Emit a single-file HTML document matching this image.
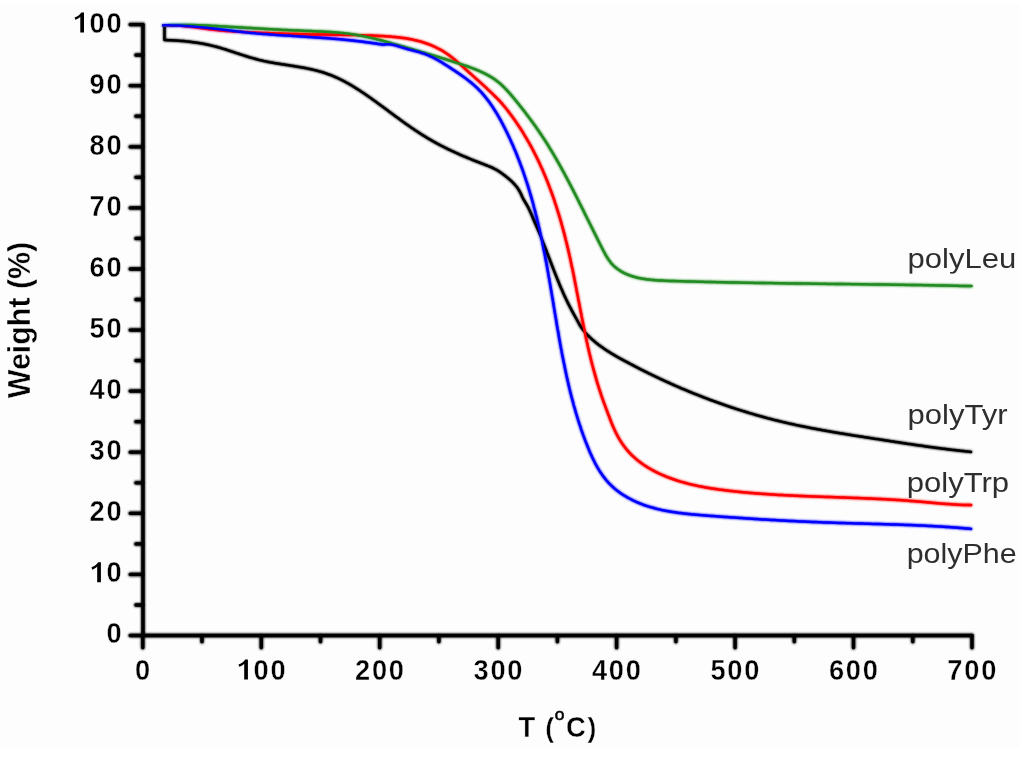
<!DOCTYPE html>
<html><head><meta charset="utf-8"><style>
html,body{margin:0;padding:0;background:#fff;}
body{width:1024px;height:757px;overflow:hidden;position:relative;}
svg{position:absolute;left:0;top:0;will-change:transform;}
.t{font-family:"Liberation Sans",sans-serif;font-weight:bold;font-size:27px;fill:#000;stroke:#fdfdfd;stroke-width:0.4px;}
.l{font-family:"Liberation Sans",sans-serif;font-size:28.5px;fill:#2e2e2e;}
.one{font-weight:normal;stroke:#000;stroke-width:1.7px;}
.yt{font-family:"Liberation Sans",sans-serif;font-weight:bold;font-size:30.4px;stroke:#fdfdfd;stroke-width:0.4px;}
</style></head><body>
<svg width="1024" height="757" viewBox="0 0 1024 757">
<rect x="0" y="5" width="1020" height="743" fill="#fdfdfd"/>
<defs><filter id="b" filterUnits="userSpaceOnUse" x="0" y="0" width="1024" height="757"><feGaussianBlur stdDeviation="0.8"/></filter>
<path id="ax" stroke="#000" d="M143 24.6 V635.5 H972"/>
<path id="tk" stroke="#000" d="M130.2 635.5 H143 M130.2 574.4 H143 M130.2 513.3 H143 M130.2 452.2 H143 M130.2 391.1 H143 M130.2 330.1 H143 M130.2 269.0 H143 M130.2 207.9 H143 M130.2 146.8 H143 M130.2 85.7 H143 M130.2 24.6 H143 M135.9 605.0 H143 M135.9 543.9 H143 M135.9 482.8 H143 M135.9 421.7 H143 M135.9 360.6 H143 M135.9 299.5 H143 M135.9 238.4 H143 M135.9 177.3 H143 M135.9 116.2 H143 M135.9 55.1 H143 M142.8 635.5 V647.7 M261.3 635.5 V647.7 M379.7 635.5 V647.7 M498.2 635.5 V647.7 M616.6 635.5 V647.7 M735.1 635.5 V647.7 M853.5 635.5 V647.7 M972.0 635.5 V647.7 M202.0 635.5 V641.7 M320.5 635.5 V641.7 M438.9 635.5 V641.7 M557.4 635.5 V641.7 M675.9 635.5 V641.7 M794.3 635.5 V641.7 M912.8 635.5 V641.7"/>
<path id="cK" stroke="#000" d="M164.5 25.4 V40.1 L164.5 40.1 166.0 40.1 167.5 40.2 169.0 40.2 170.5 40.3 172.0 40.3 173.5 40.4 175.0 40.5 176.5 40.6 178.0 40.7 179.5 40.8 181.0 40.9 182.5 41.0 184.0 41.1 185.4 41.3 186.9 41.4 188.4 41.6 189.9 41.8 191.4 42.0 192.9 42.2 194.4 42.4 195.9 42.6 197.4 42.8 198.9 43.0 200.4 43.3 201.8 43.5 203.3 43.8 204.8 44.1 206.3 44.4 207.7 44.7 209.2 45.0 210.7 45.4 212.1 45.7 213.6 46.1 215.0 46.4 216.5 46.8 217.9 47.2 219.4 47.6 220.8 48.0 222.2 48.5 223.7 48.9 225.1 49.3 226.5 49.8 227.9 50.3 229.4 50.7 230.8 51.2 232.2 51.6 233.6 52.1 235.1 52.6 236.5 53.1 237.9 53.5 239.3 54.0 240.8 54.5 242.2 54.9 243.6 55.4 245.0 55.8 246.5 56.3 247.9 56.7 249.3 57.2 250.7 57.6 252.2 58.0 253.6 58.4 255.1 58.8 256.5 59.2 258.0 59.6 259.4 60.0 260.9 60.3 262.3 60.6 263.8 61.0 265.3 61.3 266.7 61.6 268.2 61.9 269.7 62.2 271.2 62.4 272.7 62.7 274.1 63.0 275.6 63.2 277.1 63.5 278.6 63.7 280.1 63.9 281.6 64.2 283.1 64.4 284.6 64.6 286.1 64.9 287.6 65.1 289.0 65.3 290.5 65.6 292.0 65.8 293.5 66.0 295.0 66.3 296.5 66.5 298.0 66.8 299.4 67.0 300.9 67.3 302.4 67.5 303.9 67.8 305.4 68.1 306.8 68.4 308.3 68.7 309.8 69.0 311.2 69.3 312.7 69.6 314.1 70.0 315.6 70.3 317.0 70.7 318.4 71.1 319.9 71.5 321.3 71.9 322.7 72.3 324.1 72.7 325.5 73.2 326.9 73.7 328.3 74.2 329.7 74.7 331.1 75.2 332.5 75.8 333.9 76.4 335.2 77.0 336.6 77.6 337.9 78.2 339.3 78.8 340.6 79.5 342.0 80.2 343.3 80.8 344.6 81.5 345.9 82.3 347.3 83.0 348.6 83.7 349.9 84.5 351.2 85.2 352.5 86.0 353.8 86.8 355.0 87.6 356.3 88.4 357.6 89.2 358.9 90.0 360.1 90.8 361.4 91.7 362.7 92.5 363.9 93.3 365.2 94.2 366.4 95.1 367.7 95.9 368.9 96.8 370.2 97.7 371.4 98.5 372.6 99.4 373.8 100.3 375.1 101.2 376.3 102.1 377.5 103.0 378.7 103.9 380.0 104.8 381.2 105.7 382.4 106.5 383.6 107.4 384.8 108.3 386.0 109.2 387.2 110.1 388.4 111.0 389.6 111.9 390.8 112.8 392.0 113.7 393.2 114.6 394.4 115.5 395.6 116.4 396.9 117.3 398.1 118.1 399.3 119.0 400.5 119.9 401.7 120.8 402.9 121.7 404.1 122.5 405.3 123.4 406.5 124.3 407.8 125.1 409.0 126.0 410.2 126.8 411.4 127.7 412.7 128.5 413.9 129.3 415.1 130.2 416.4 131.0 417.6 131.8 418.9 132.6 420.1 133.5 421.4 134.3 422.6 135.1 423.9 135.8 425.2 136.6 426.4 137.4 427.7 138.2 429.0 138.9 430.3 139.7 431.6 140.4 432.9 141.2 434.2 141.9 435.5 142.6 436.8 143.4 438.2 144.1 439.5 144.8 440.8 145.5 442.2 146.2 443.5 146.8 444.8 147.5 446.2 148.2 447.5 148.9 448.9 149.5 450.3 150.2 451.6 150.8 453.0 151.4 454.4 152.1 455.7 152.7 457.1 153.3 458.5 153.9 459.8 154.6 461.2 155.2 462.6 155.8 464.0 156.4 465.4 156.9 466.8 157.5 468.2 158.1 469.6 158.7 470.9 159.2 472.3 159.8 473.7 160.4 475.1 160.9 476.5 161.5 477.9 162.0 479.3 162.5 480.7 163.1 482.1 163.6 483.5 164.1 484.9 164.7 486.3 165.2 487.7 165.8 489.0 166.3 490.4 166.9 491.8 167.5 493.1 168.1 494.4 168.8 495.8 169.5 497.1 170.2 498.4 171.0 499.6 171.8 500.9 172.7 502.1 173.6 503.3 174.5 504.6 175.4 505.8 176.3 506.9 177.3 508.1 178.2 509.2 179.2 510.4 180.2 511.5 181.2 512.5 182.2 513.6 183.3 514.6 184.4 515.5 185.5 516.5 186.6 517.4 187.8 518.2 189.0 519.0 190.3 519.7 191.5 520.4 192.9 521.1 194.2 521.7 195.6 522.3 197.0 523.0 198.4 523.7 199.7 524.5 201.0 525.2 202.2 526.0 203.5 526.8 204.8 527.5 206.1 528.2 207.4 528.8 208.7 529.5 210.1 530.1 211.4 530.7 212.8 531.3 214.1 531.9 215.5 532.5 216.9 533.0 218.3 533.6 219.6 534.2 221.0 534.8 222.4 535.4 223.8 536.0 225.1 536.6 226.5 537.2 227.9 537.8 229.3 538.4 230.7 539.0 232.1 539.5 233.4 540.1 234.8 540.7 236.2 541.2 237.6 541.8 239.0 542.3 240.4 542.9 241.8 543.4 243.2 544.0 244.6 544.5 246.0 545.1 247.4 545.6 248.8 546.2 250.2 546.7 251.6 547.2 253.0 547.8 254.4 548.3 255.8 548.8 257.2 549.4 258.6 549.9 260.0 550.4 261.4 551.0 262.8 551.5 264.2 552.0 265.6 552.6 267.0 553.1 268.4 553.7 269.8 554.2 271.2 554.8 272.6 555.3 274.0 555.9 275.4 556.4 276.8 557.0 278.2 557.5 279.6 558.1 280.9 558.7 282.3 559.2 283.7 559.8 285.1 560.4 286.5 561.0 287.9 561.6 289.2 562.2 290.6 562.8 292.0 563.4 293.4 564.0 294.7 564.6 296.1 565.3 297.4 565.9 298.8 566.6 300.2 567.2 301.5 567.9 302.9 568.5 304.2 569.2 305.5 569.9 306.9 570.6 308.2 571.3 309.5 572.0 310.9 572.7 312.2 573.4 313.5 574.2 314.8 574.9 316.1 575.6 317.4 576.3 318.7 577.1 320.0 577.8 321.4 578.5 322.7 579.2 324.0 579.9 325.3 580.7 326.5 581.5 327.8 582.4 329.0 583.3 330.2 584.2 331.4 585.2 332.5 586.3 333.7 587.3 334.8 588.4 335.8 589.4 336.9 590.5 337.9 591.6 339.0 592.8 340.0 593.9 340.9 595.0 341.9 596.2 342.9 597.4 343.8 598.5 344.7 599.7 345.6 600.9 346.5 602.2 347.3 603.4 348.2 604.6 349.0 605.8 349.9 607.1 350.7 608.4 351.5 609.6 352.3 610.9 353.1 612.2 353.9 613.5 354.6 614.7 355.4 616.0 356.1 617.3 356.9 618.6 357.6 620.0 358.4 621.3 359.1 622.6 359.8 623.9 360.5 625.2 361.2 626.6 361.9 627.9 362.6 629.2 363.3 630.5 364.0 631.9 364.7 633.2 365.4 634.5 366.1 635.9 366.8 637.2 367.5 638.5 368.2 639.9 368.9 641.2 369.6 642.5 370.2 643.9 370.9 645.2 371.6 646.6 372.2 647.9 372.9 649.3 373.6 650.6 374.2 652.0 374.9 653.3 375.5 654.7 376.2 656.0 376.8 657.4 377.5 658.7 378.1 660.1 378.8 661.5 379.4 662.8 380.0 664.2 380.7 665.6 381.3 666.9 381.9 668.3 382.5 669.7 383.1 671.0 383.8 672.4 384.4 673.8 385.0 675.1 385.6 676.5 386.2 677.9 386.8 679.3 387.4 680.6 388.0 682.0 388.6 683.4 389.1 684.8 389.7 686.2 390.3 687.6 390.9 688.9 391.5 690.3 392.0 691.7 392.6 693.1 393.2 694.5 393.7 695.9 394.3 697.3 394.8 698.7 395.4 700.1 395.9 701.5 396.5 702.9 397.0 704.3 397.6 705.7 398.1 707.1 398.6 708.5 399.2 709.9 399.7 711.3 400.2 712.7 400.7 714.1 401.3 715.5 401.8 716.9 402.3 718.3 402.8 719.7 403.3 721.1 403.8 722.6 404.3 724.0 404.8 725.4 405.3 726.8 405.8 728.2 406.2 729.6 406.7 731.1 407.2 732.5 407.7 733.9 408.1 735.3 408.6 736.8 409.1 738.2 409.5 739.6 410.0 741.0 410.4 742.5 410.9 743.9 411.3 745.3 411.8 746.8 412.2 748.2 412.6 749.6 413.1 751.1 413.5 752.5 413.9 754.0 414.4 755.4 414.8 756.8 415.2 758.3 415.6 759.7 416.0 761.2 416.4 762.6 416.8 764.1 417.2 765.5 417.6 766.9 418.0 768.4 418.4 769.8 418.7 771.3 419.1 772.7 419.5 774.2 419.9 775.7 420.2 777.1 420.6 778.6 420.9 780.0 421.3 781.5 421.6 782.9 422.0 784.4 422.3 785.9 422.7 787.3 423.0 788.8 423.4 790.2 423.7 791.7 424.0 793.2 424.3 794.6 424.6 796.1 425.0 797.6 425.3 799.0 425.6 800.5 425.9 802.0 426.2 803.4 426.5 804.9 426.8 806.4 427.1 807.8 427.4 809.3 427.7 810.8 428.0 812.3 428.3 813.7 428.5 815.2 428.8 816.7 429.1 818.2 429.4 819.6 429.6 821.1 429.9 822.6 430.2 824.1 430.4 825.5 430.7 827.0 431.0 828.5 431.2 830.0 431.5 831.5 431.8 832.9 432.0 834.4 432.3 835.9 432.5 837.4 432.8 838.9 433.0 840.3 433.3 841.8 433.5 843.3 433.7 844.8 434.0 846.3 434.2 847.8 434.5 849.2 434.7 850.7 434.9 852.2 435.2 853.7 435.4 855.2 435.7 856.7 435.9 858.1 436.1 859.6 436.4 861.1 436.6 862.6 436.8 864.1 437.1 865.6 437.3 867.0 437.5 868.5 437.7 870.0 438.0 871.5 438.2 873.0 438.4 874.5 438.7 875.9 438.9 877.4 439.1 878.9 439.3 880.4 439.6 881.9 439.8 883.4 440.0 884.8 440.3 886.3 440.5 887.8 440.7 889.3 440.9 890.8 441.2 892.2 441.4 893.7 441.6 895.2 441.9 896.7 442.1 898.2 442.3 899.7 442.5 901.1 442.8 902.6 443.0 904.1 443.2 905.6 443.4 907.1 443.7 908.5 443.9 910.0 444.1 911.5 444.3 913.0 444.5 914.5 444.8 915.9 445.0 917.4 445.2 918.9 445.4 920.4 445.6 921.9 445.8 923.4 446.0 924.8 446.3 926.3 446.5 927.8 446.7 929.3 446.9 930.8 447.1 932.3 447.3 933.8 447.5 935.2 447.7 936.7 447.9 938.2 448.1 939.7 448.3 941.2 448.5 942.7 448.7 944.2 448.8 945.6 449.0 947.1 449.2 948.6 449.4 950.1 449.6 951.6 449.8 953.1 449.9 954.6 450.1 956.1 450.3 957.6 450.5 959.1 450.6 960.6 450.8 962.1 450.9 963.5 451.1 965.0 451.3 966.5 451.4 968.0 451.6 969.5 451.7 971.0 451.9"/>
<path id="cR" stroke="#ff0000" d="M163.2 25.5 164.7 25.5 166.2 25.4 167.7 25.4 169.2 25.4 170.7 25.4 172.2 25.4 173.7 25.4 175.2 25.5 176.7 25.6 178.2 25.6 179.7 25.7 181.2 25.8 182.7 26.0 184.2 26.1 185.7 26.2 187.1 26.4 188.6 26.5 190.1 26.7 191.6 26.9 193.1 27.1 194.6 27.2 196.1 27.4 197.6 27.6 199.1 27.8 200.5 28.0 202.0 28.2 203.5 28.4 205.0 28.6 206.5 28.8 208.0 29.0 209.5 29.2 210.9 29.4 212.4 29.5 213.9 29.7 215.4 29.9 216.9 30.1 218.4 30.2 219.9 30.4 221.4 30.5 222.9 30.6 224.3 30.8 225.8 30.9 227.3 31.0 228.8 31.1 230.3 31.2 231.8 31.3 233.3 31.4 234.8 31.5 236.3 31.6 237.8 31.7 239.3 31.8 240.8 31.8 242.3 31.9 243.8 32.0 245.3 32.1 246.8 32.1 248.3 32.2 249.8 32.3 251.3 32.4 252.7 32.4 254.2 32.5 255.7 32.6 257.2 32.6 258.7 32.7 260.2 32.8 261.7 32.8 263.2 32.9 264.7 32.9 266.2 33.0 267.7 33.1 269.2 33.1 270.7 33.2 272.2 33.3 273.7 33.3 275.2 33.4 276.7 33.4 278.2 33.5 279.7 33.5 281.2 33.6 282.7 33.6 284.2 33.7 285.7 33.7 287.2 33.8 288.7 33.8 290.2 33.9 291.7 33.9 293.2 34.0 294.7 34.0 296.2 34.1 297.7 34.1 299.2 34.2 300.7 34.2 302.2 34.2 303.7 34.3 305.2 34.3 306.7 34.3 308.2 34.4 309.7 34.4 311.1 34.4 312.6 34.4 314.1 34.5 315.6 34.5 317.1 34.5 318.6 34.5 320.1 34.6 321.6 34.6 323.1 34.6 324.6 34.6 326.1 34.6 327.6 34.7 329.1 34.7 330.6 34.7 332.1 34.7 333.6 34.7 335.1 34.8 336.6 34.8 338.1 34.8 339.6 34.8 341.1 34.8 342.6 34.9 344.1 34.9 345.6 34.9 347.1 34.9 348.6 35.0 350.1 35.0 351.6 35.0 353.1 35.0 354.6 35.1 356.1 35.1 357.6 35.2 359.1 35.2 360.6 35.2 362.1 35.3 363.6 35.3 365.1 35.4 366.5 35.4 368.0 35.5 369.5 35.5 371.0 35.6 372.5 35.6 374.0 35.7 375.5 35.8 377.0 35.8 378.5 35.9 380.0 36.0 381.5 36.1 383.0 36.1 384.5 36.2 386.0 36.3 387.5 36.4 389.0 36.5 390.5 36.6 392.0 36.8 393.5 36.9 395.0 37.0 396.5 37.2 398.0 37.3 399.4 37.5 400.9 37.7 402.4 37.9 403.9 38.1 405.4 38.3 406.9 38.5 408.3 38.8 409.8 39.1 411.3 39.3 412.7 39.6 414.2 40.0 415.7 40.3 417.1 40.7 418.6 41.0 420.0 41.4 421.5 41.8 422.9 42.3 424.3 42.7 425.7 43.2 427.2 43.7 428.6 44.2 430.0 44.8 431.4 45.3 432.7 45.9 434.1 46.5 435.5 47.2 436.8 47.8 438.1 48.5 439.5 49.2 440.8 49.9 442.1 50.6 443.4 51.4 444.6 52.2 445.9 53.0 447.1 53.9 448.3 54.7 449.5 55.6 450.7 56.5 451.9 57.4 453.1 58.3 454.2 59.3 455.4 60.3 456.5 61.2 457.7 62.2 458.8 63.2 459.9 64.2 461.0 65.2 462.2 66.2 463.3 67.2 464.4 68.2 465.5 69.2 466.6 70.2 467.7 71.2 468.8 72.2 470.0 73.2 471.1 74.2 472.2 75.2 473.3 76.2 474.4 77.2 475.5 78.2 476.7 79.2 477.8 80.2 478.9 81.2 480.0 82.2 481.1 83.2 482.2 84.2 483.3 85.2 484.4 86.2 485.5 87.2 486.6 88.2 487.7 89.3 488.8 90.3 489.9 91.3 490.9 92.3 492.0 93.3 493.1 94.4 494.1 95.4 495.2 96.5 496.3 97.5 497.3 98.6 498.3 99.6 499.4 100.7 500.4 101.8 501.4 102.9 502.4 104.1 503.3 105.2 504.3 106.4 505.3 107.5 506.2 108.7 507.2 109.9 508.1 111.1 509.0 112.3 509.9 113.5 510.8 114.7 511.7 115.9 512.6 117.1 513.5 118.4 514.4 119.6 515.2 120.8 516.1 122.1 516.9 123.3 517.8 124.6 518.6 125.8 519.4 127.1 520.3 128.3 521.1 129.6 521.9 130.9 522.7 132.1 523.5 133.4 524.2 134.7 525.0 136.0 525.8 137.2 526.5 138.5 527.3 139.8 528.0 141.1 528.8 142.4 529.5 143.7 530.2 145.0 531.0 146.3 531.7 147.6 532.4 149.0 533.1 150.3 533.8 151.6 534.4 152.9 535.1 154.3 535.8 155.6 536.5 156.9 537.1 158.3 537.8 159.6 538.4 161.0 539.1 162.3 539.7 163.7 540.3 165.0 540.9 166.4 541.5 167.7 542.2 169.1 542.8 170.5 543.3 171.8 543.9 173.2 544.5 174.6 545.1 176.0 545.7 177.3 546.2 178.7 546.8 180.1 547.4 181.5 547.9 182.9 548.4 184.3 549.0 185.7 549.5 187.1 550.0 188.5 550.6 189.9 551.1 191.3 551.6 192.7 552.1 194.1 552.6 195.5 553.1 196.9 553.6 198.3 554.1 199.7 554.6 201.2 555.0 202.6 555.5 204.0 556.0 205.4 556.4 206.9 556.9 208.3 557.3 209.7 557.8 211.1 558.2 212.6 558.7 214.0 559.1 215.4 559.5 216.9 560.0 218.3 560.4 219.8 560.8 221.2 561.2 222.6 561.6 224.1 562.0 225.5 562.4 227.0 562.8 228.4 563.2 229.9 563.6 231.3 564.0 232.8 564.4 234.2 564.7 235.7 565.1 237.1 565.5 238.6 565.8 240.1 566.2 241.5 566.6 243.0 566.9 244.4 567.3 245.9 567.6 247.4 568.0 248.8 568.3 250.3 568.6 251.7 569.0 253.2 569.3 254.7 569.6 256.1 570.0 257.6 570.3 259.1 570.6 260.5 570.9 262.0 571.2 263.5 571.5 264.9 571.8 266.4 572.2 267.9 572.5 269.3 572.8 270.8 573.1 272.3 573.4 273.7 573.7 275.2 574.0 276.7 574.2 278.1 574.5 279.6 574.8 281.1 575.1 282.6 575.4 284.0 575.7 285.5 576.0 287.0 576.3 288.4 576.5 289.9 576.8 291.4 577.1 292.9 577.4 294.3 577.7 295.8 578.0 297.3 578.2 298.7 578.5 300.2 578.8 301.7 579.1 303.1 579.4 304.6 579.7 306.1 579.9 307.6 580.2 309.0 580.5 310.5 580.8 312.0 581.1 313.4 581.4 314.9 581.6 316.4 581.9 317.8 582.2 319.3 582.5 320.8 582.8 322.3 583.1 323.7 583.4 325.2 583.7 326.7 584.0 328.1 584.3 329.6 584.6 331.1 584.9 332.5 585.2 334.0 585.5 335.4 585.8 336.9 586.1 338.4 586.4 339.8 586.7 341.3 587.1 342.8 587.4 344.2 587.7 345.7 588.0 347.1 588.4 348.6 588.7 350.0 589.0 351.5 589.4 353.0 589.7 354.4 590.1 355.9 590.4 357.3 590.8 358.8 591.1 360.2 591.5 361.7 591.9 363.1 592.2 364.6 592.6 366.0 593.0 367.5 593.4 368.9 593.8 370.4 594.2 371.8 594.6 373.2 595.0 374.7 595.4 376.1 595.8 377.6 596.2 379.0 596.6 380.4 597.0 381.9 597.5 383.3 597.9 384.7 598.4 386.2 598.8 387.6 599.3 389.0 599.7 390.5 600.2 391.9 600.7 393.3 601.1 394.7 601.6 396.2 602.1 397.6 602.6 399.0 603.1 400.4 603.6 401.9 604.1 403.3 604.7 404.7 605.2 406.1 605.7 407.5 606.2 408.9 606.8 410.3 607.3 411.7 607.8 413.1 608.3 414.5 608.9 415.9 609.4 417.3 609.9 418.7 610.4 420.1 611.0 421.5 611.5 422.9 612.1 424.3 612.7 425.7 613.3 427.1 613.9 428.4 614.5 429.8 615.2 431.2 615.8 432.5 616.5 433.9 617.2 435.2 617.9 436.6 618.7 437.9 619.4 439.2 620.2 440.5 621.0 441.7 621.8 443.0 622.6 444.2 623.5 445.4 624.4 446.6 625.3 447.8 626.2 449.0 627.2 450.1 628.1 451.2 629.1 452.3 630.1 453.4 631.2 454.5 632.2 455.5 633.3 456.5 634.4 457.5 635.5 458.5 636.6 459.4 637.7 460.4 638.9 461.3 640.1 462.2 641.3 463.1 642.5 463.9 643.7 464.8 644.9 465.6 646.2 466.4 647.4 467.2 648.7 468.0 650.0 468.7 651.3 469.5 652.6 470.2 653.9 470.9 655.2 471.6 656.6 472.3 657.9 472.9 659.3 473.6 660.6 474.2 662.0 474.8 663.4 475.4 664.8 476.0 666.2 476.6 667.6 477.1 669.0 477.7 670.5 478.2 671.9 478.7 673.3 479.2 674.8 479.7 676.2 480.2 677.6 480.7 679.1 481.1 680.5 481.6 682.0 482.0 683.4 482.4 684.9 482.8 686.4 483.2 687.8 483.6 689.3 484.0 690.7 484.3 692.2 484.7 693.7 485.0 695.1 485.3 696.6 485.6 698.1 486.0 699.5 486.3 701.0 486.5 702.5 486.8 703.9 487.1 705.4 487.4 706.9 487.6 708.4 487.9 709.8 488.1 711.3 488.4 712.8 488.6 714.3 488.8 715.7 489.0 717.2 489.2 718.7 489.5 720.2 489.7 721.6 489.8 723.1 490.0 724.6 490.2 726.1 490.4 727.6 490.6 729.0 490.8 730.5 490.9 732.0 491.1 733.5 491.3 735.0 491.4 736.5 491.6 738.0 491.7 739.4 491.9 740.9 492.0 742.4 492.2 743.9 492.3 745.4 492.5 746.9 492.6 748.4 492.7 749.9 492.9 751.3 493.0 752.8 493.1 754.3 493.2 755.8 493.4 757.3 493.5 758.8 493.6 760.3 493.7 761.8 493.8 763.3 493.9 764.8 494.0 766.3 494.1 767.8 494.2 769.2 494.3 770.7 494.4 772.2 494.5 773.7 494.6 775.2 494.7 776.7 494.8 778.2 494.9 779.7 495.0 781.2 495.0 782.7 495.1 784.2 495.2 785.7 495.3 787.2 495.3 788.7 495.4 790.2 495.5 791.7 495.6 793.2 495.6 794.7 495.7 796.2 495.8 797.7 495.8 799.2 495.9 800.7 496.0 802.2 496.0 803.7 496.1 805.2 496.2 806.7 496.2 808.2 496.3 809.7 496.3 811.2 496.4 812.7 496.4 814.2 496.5 815.7 496.6 817.2 496.6 818.7 496.7 820.2 496.7 821.7 496.8 823.2 496.8 824.7 496.9 826.2 496.9 827.7 497.0 829.2 497.0 830.7 497.1 832.2 497.1 833.7 497.2 835.2 497.2 836.7 497.3 838.2 497.3 839.7 497.4 841.2 497.4 842.7 497.5 844.2 497.5 845.7 497.6 847.2 497.7 848.7 497.7 850.2 497.8 851.7 497.8 853.2 497.9 854.7 497.9 856.2 498.0 857.7 498.0 859.2 498.1 860.6 498.2 862.1 498.2 863.6 498.3 865.1 498.3 866.6 498.4 868.1 498.5 869.6 498.5 871.1 498.6 872.6 498.7 874.1 498.7 875.6 498.8 877.1 498.9 878.6 498.9 880.1 499.0 881.6 499.1 883.1 499.2 884.6 499.2 886.1 499.3 887.5 499.4 889.0 499.5 890.5 499.6 892.0 499.7 893.5 499.8 895.0 499.8 896.5 499.9 898.0 500.0 899.5 500.1 901.0 500.2 902.5 500.3 904.0 500.4 905.4 500.5 906.9 500.6 908.4 500.7 909.9 500.9 911.4 501.0 912.9 501.1 914.4 501.2 915.9 501.3 917.4 501.5 918.9 501.6 920.3 501.7 921.8 501.8 923.3 502.0 924.8 502.1 926.3 502.2 927.8 502.4 929.3 502.5 930.8 502.6 932.3 502.8 933.8 502.9 935.2 503.0 936.7 503.2 938.2 503.3 939.7 503.4 941.2 503.6 942.7 503.7 944.2 503.8 945.7 503.9 947.2 504.0 948.7 504.1 950.2 504.2 951.6 504.3 953.1 504.4 954.6 504.5 956.1 504.6 957.6 504.7 959.1 504.8 960.6 504.8 962.1 504.9 963.6 504.9 965.1 505.0 966.6 505.0 968.1 505.0 969.6 505.0 971.1 505.1"/>
<path id="cG" stroke="#228b22" d="M163.2 25.4 164.7 25.3 166.2 25.2 167.7 25.2 169.2 25.1 170.7 25.1 172.2 25.0 173.7 25.0 175.2 25.0 176.7 24.9 178.2 24.9 179.7 24.9 181.2 24.9 182.7 24.9 184.2 24.9 185.7 24.9 187.2 25.0 188.7 25.0 190.2 25.0 191.7 25.0 193.2 25.1 194.7 25.1 196.2 25.2 197.7 25.2 199.2 25.3 200.7 25.3 202.2 25.4 203.7 25.4 205.2 25.5 206.7 25.6 208.2 25.6 209.7 25.7 211.1 25.8 212.6 25.9 214.1 26.0 215.6 26.0 217.1 26.1 218.6 26.2 220.1 26.3 221.6 26.4 223.1 26.5 224.6 26.5 226.1 26.6 227.6 26.7 229.1 26.8 230.6 26.9 232.1 27.0 233.6 27.1 235.1 27.2 236.6 27.2 238.1 27.3 239.6 27.4 241.1 27.5 242.6 27.6 244.1 27.7 245.5 27.8 247.0 27.9 248.5 28.0 250.0 28.0 251.5 28.1 253.0 28.2 254.5 28.3 256.0 28.4 257.5 28.5 259.0 28.6 260.5 28.7 262.0 28.7 263.5 28.8 265.0 28.9 266.5 29.0 268.0 29.1 269.5 29.2 271.0 29.2 272.5 29.3 274.0 29.4 275.5 29.5 277.0 29.6 278.5 29.6 279.9 29.7 281.4 29.8 282.9 29.9 284.4 29.9 285.9 30.0 287.4 30.1 288.9 30.2 290.4 30.2 291.9 30.3 293.4 30.4 294.9 30.4 296.4 30.5 297.9 30.6 299.4 30.6 300.9 30.7 302.4 30.8 303.9 30.8 305.4 30.9 306.9 30.9 308.4 31.0 309.9 31.1 311.4 31.1 312.9 31.2 314.4 31.3 315.9 31.3 317.4 31.4 318.9 31.5 320.4 31.5 321.9 31.6 323.4 31.7 324.9 31.8 326.4 31.8 327.9 31.9 329.4 32.0 330.9 32.1 332.4 32.2 333.9 32.3 335.4 32.5 336.9 32.6 338.3 32.7 339.8 32.8 341.3 33.0 342.8 33.1 344.3 33.3 345.8 33.5 347.3 33.6 348.8 33.8 350.2 34.0 351.7 34.2 353.2 34.4 354.7 34.6 356.2 34.9 357.6 35.1 359.1 35.4 360.6 35.6 362.1 35.9 363.5 36.2 365.0 36.5 366.5 36.8 367.9 37.1 369.4 37.4 370.9 37.8 372.3 38.1 373.8 38.5 375.2 38.8 376.7 39.2 378.2 39.6 379.6 39.9 381.1 40.3 382.5 40.7 384.0 41.1 385.4 41.5 386.9 41.9 388.3 42.3 389.8 42.7 391.2 43.1 392.7 43.6 394.1 44.0 395.6 44.4 397.0 44.8 398.4 45.2 399.9 45.6 401.3 46.0 402.8 46.4 404.2 46.8 405.6 47.3 407.1 47.7 408.5 48.1 409.9 48.5 411.4 48.9 412.8 49.3 414.3 49.8 415.7 50.2 417.1 50.6 418.5 51.0 420.0 51.4 421.4 51.9 422.8 52.3 424.3 52.7 425.7 53.1 427.1 53.6 428.6 54.0 430.0 54.4 431.4 54.9 432.9 55.3 434.3 55.7 435.7 56.2 437.1 56.6 438.6 57.0 440.0 57.5 441.4 57.9 442.8 58.4 444.3 58.8 445.7 59.3 447.1 59.7 448.6 60.2 450.0 60.6 451.4 61.1 452.8 61.6 454.3 62.0 455.7 62.5 457.1 63.0 458.5 63.4 460.0 63.9 461.4 64.4 462.8 64.9 464.3 65.4 465.7 65.8 467.1 66.3 468.5 66.8 470.0 67.3 471.4 67.9 472.8 68.4 474.2 68.9 475.6 69.5 477.0 70.0 478.4 70.6 479.7 71.2 481.1 71.8 482.4 72.4 483.8 73.1 485.1 73.7 486.4 74.4 487.7 75.1 489.0 75.8 490.3 76.6 491.6 77.3 492.8 78.1 494.1 78.9 495.3 79.8 496.5 80.7 497.6 81.6 498.8 82.5 499.9 83.4 501.0 84.4 502.1 85.4 503.2 86.5 504.3 87.5 505.3 88.6 506.4 89.7 507.4 90.8 508.4 91.9 509.4 93.0 510.4 94.2 511.4 95.3 512.4 96.5 513.4 97.7 514.3 98.8 515.3 100.0 516.3 101.2 517.2 102.4 518.2 103.5 519.1 104.7 520.0 105.9 521.0 107.1 521.9 108.2 522.8 109.4 523.8 110.6 524.7 111.8 525.6 113.0 526.5 114.2 527.4 115.4 528.3 116.6 529.2 117.8 530.1 119.0 531.0 120.2 531.9 121.4 532.7 122.6 533.6 123.8 534.5 125.0 535.4 126.2 536.2 127.4 537.1 128.7 537.9 129.9 538.8 131.1 539.6 132.4 540.4 133.6 541.3 134.8 542.1 136.1 542.9 137.3 543.7 138.6 544.6 139.8 545.4 141.1 546.2 142.3 547.0 143.6 547.8 144.9 548.6 146.1 549.3 147.4 550.1 148.7 550.9 150.0 551.7 151.2 552.4 152.5 553.2 153.8 554.0 155.1 554.7 156.4 555.5 157.7 556.2 159.0 557.0 160.3 557.7 161.6 558.5 162.9 559.2 164.2 559.9 165.5 560.7 166.9 561.4 168.2 562.1 169.5 562.8 170.8 563.6 172.1 564.3 173.4 565.0 174.8 565.7 176.1 566.4 177.4 567.1 178.7 567.8 180.1 568.5 181.4 569.2 182.7 569.9 184.1 570.6 185.4 571.3 186.7 572.0 188.1 572.7 189.4 573.4 190.7 574.0 192.1 574.7 193.4 575.4 194.7 576.1 196.1 576.8 197.4 577.4 198.7 578.1 200.1 578.8 201.4 579.4 202.7 580.1 204.1 580.8 205.4 581.5 206.8 582.1 208.1 582.8 209.4 583.5 210.8 584.1 212.1 584.8 213.5 585.4 214.8 586.1 216.1 586.8 217.5 587.4 218.8 588.1 220.2 588.8 221.5 589.4 222.8 590.1 224.2 590.8 225.5 591.4 226.9 592.1 228.2 592.8 229.5 593.4 230.9 594.1 232.2 594.8 233.6 595.4 234.9 596.1 236.2 596.8 237.6 597.4 238.9 598.1 240.3 598.8 241.6 599.5 243.0 600.1 244.3 600.8 245.7 601.5 247.0 602.2 248.4 602.9 249.7 603.6 251.1 604.3 252.4 605.0 253.7 605.7 255.1 606.5 256.4 607.3 257.6 608.1 258.9 608.9 260.1 609.8 261.3 610.7 262.5 611.6 263.6 612.6 264.7 613.7 265.8 614.8 266.8 615.9 267.7 617.0 268.6 618.2 269.5 619.5 270.3 620.7 271.1 622.0 271.9 623.4 272.6 624.7 273.3 626.1 273.9 627.4 274.5 628.8 275.0 630.3 275.6 631.7 276.0 633.1 276.5 634.5 276.9 636.0 277.3 637.4 277.7 638.9 278.0 640.4 278.3 641.9 278.6 643.3 278.8 644.8 279.0 646.3 279.3 647.8 279.4 649.3 279.6 650.8 279.8 652.3 279.9 653.8 280.0 655.3 280.2 656.8 280.3 658.3 280.4 659.9 280.5 661.4 280.5 662.9 280.6 664.4 280.7 665.9 280.8 667.4 280.8 668.8 280.9 670.3 280.9 671.8 281.0 673.3 281.0 674.8 281.1 676.3 281.1 677.8 281.2 679.3 281.2 680.8 281.2 682.3 281.3 683.8 281.3 685.3 281.4 686.8 281.4 688.3 281.5 689.8 281.5 691.3 281.5 692.8 281.6 694.3 281.6 695.8 281.7 697.3 281.7 698.8 281.7 700.3 281.8 701.8 281.8 703.3 281.8 704.7 281.9 706.2 281.9 707.7 281.9 709.2 282.0 710.7 282.0 712.2 282.1 713.7 282.1 715.2 282.1 716.7 282.2 718.2 282.2 719.7 282.2 721.2 282.2 722.7 282.3 724.2 282.3 725.7 282.3 727.2 282.4 728.7 282.4 730.2 282.4 731.7 282.5 733.2 282.5 734.7 282.5 736.2 282.5 737.7 282.6 739.2 282.6 740.7 282.6 742.2 282.7 743.7 282.7 745.2 282.7 746.7 282.7 748.2 282.8 749.7 282.8 751.2 282.8 752.7 282.8 754.2 282.9 755.7 282.9 757.2 282.9 758.7 282.9 760.2 283.0 761.7 283.0 763.2 283.0 764.7 283.0 766.2 283.1 767.7 283.1 769.2 283.1 770.7 283.1 772.2 283.1 773.6 283.2 775.1 283.2 776.6 283.2 778.1 283.2 779.6 283.3 781.1 283.3 782.6 283.3 784.1 283.3 785.6 283.3 787.1 283.4 788.6 283.4 790.1 283.4 791.6 283.4 793.1 283.4 794.6 283.5 796.1 283.5 797.6 283.5 799.1 283.5 800.6 283.5 802.1 283.6 803.6 283.6 805.1 283.6 806.6 283.6 808.1 283.6 809.6 283.6 811.1 283.7 812.6 283.7 814.1 283.7 815.6 283.7 817.1 283.7 818.6 283.8 820.1 283.8 821.6 283.8 823.1 283.8 824.6 283.8 826.1 283.8 827.6 283.9 829.1 283.9 830.6 283.9 832.1 283.9 833.6 283.9 835.1 284.0 836.6 284.0 838.1 284.0 839.6 284.0 841.1 284.0 842.6 284.0 844.1 284.1 845.6 284.1 847.1 284.1 848.6 284.1 850.1 284.1 851.6 284.2 853.1 284.2 854.6 284.2 856.1 284.2 857.6 284.2 859.1 284.2 860.6 284.3 862.1 284.3 863.6 284.3 865.1 284.3 866.6 284.3 868.1 284.4 869.6 284.4 871.1 284.4 872.6 284.4 874.1 284.4 875.6 284.5 877.1 284.5 878.6 284.5 880.1 284.5 881.6 284.5 883.1 284.6 884.6 284.6 886.1 284.6 887.6 284.6 889.1 284.6 890.6 284.7 892.1 284.7 893.6 284.7 895.1 284.7 896.6 284.7 898.1 284.8 899.6 284.8 901.1 284.8 902.6 284.8 904.1 284.8 905.6 284.9 907.1 284.9 908.6 284.9 910.1 284.9 911.6 285.0 913.1 285.0 914.6 285.0 916.1 285.0 917.6 285.1 919.1 285.1 920.6 285.1 922.1 285.1 923.6 285.2 925.1 285.2 926.6 285.2 928.1 285.2 929.6 285.3 931.1 285.3 932.6 285.3 934.1 285.3 935.6 285.4 937.1 285.4 938.6 285.4 940.1 285.5 941.5 285.5 943.0 285.5 944.5 285.5 946.0 285.6 947.5 285.6 949.0 285.6 950.5 285.7 952.0 285.7 953.5 285.7 955.0 285.8 956.5 285.8 958.0 285.8 959.5 285.9 961.0 285.9 962.5 285.9 964.0 286.0 965.5 286.0 967.0 286.0 968.5 286.1 970.0 286.1 971.5 286.1"/>
<path id="cB" stroke="#0000ff" d="M163.2 25.4 164.7 25.3 166.2 25.3 167.7 25.3 169.2 25.3 170.7 25.4 172.2 25.4 173.7 25.4 175.2 25.5 176.7 25.5 178.2 25.6 179.7 25.6 181.2 25.7 182.7 25.8 184.2 25.9 185.7 26.0 187.2 26.1 188.6 26.2 190.1 26.3 191.6 26.4 193.1 26.5 194.6 26.7 196.1 26.8 197.6 26.9 199.1 27.1 200.6 27.2 202.1 27.4 203.6 27.5 205.0 27.7 206.5 27.8 208.0 28.0 209.5 28.2 211.0 28.3 212.5 28.5 214.0 28.7 215.5 28.9 217.0 29.0 218.4 29.2 219.9 29.4 221.4 29.6 222.9 29.7 224.4 29.9 225.9 30.1 227.4 30.3 228.9 30.5 230.3 30.6 231.8 30.8 233.3 31.0 234.8 31.2 236.3 31.3 237.8 31.5 239.3 31.7 240.8 31.8 242.3 32.0 243.7 32.1 245.2 32.3 246.7 32.4 248.2 32.6 249.7 32.7 251.2 32.9 252.7 33.0 254.2 33.1 255.7 33.3 257.2 33.4 258.7 33.5 260.2 33.7 261.6 33.8 263.1 33.9 264.6 34.0 266.1 34.1 267.6 34.2 269.1 34.3 270.6 34.5 272.1 34.6 273.6 34.7 275.1 34.8 276.6 34.9 278.1 35.0 279.6 35.1 281.1 35.2 282.6 35.3 284.1 35.4 285.5 35.5 287.0 35.6 288.5 35.6 290.0 35.7 291.5 35.8 293.0 35.9 294.5 36.0 296.0 36.1 297.5 36.2 299.0 36.3 300.5 36.4 302.0 36.5 303.5 36.6 305.0 36.7 306.5 36.8 308.0 36.9 309.5 37.0 311.0 37.1 312.5 37.2 314.0 37.3 315.5 37.4 316.9 37.5 318.4 37.6 319.9 37.7 321.4 37.8 322.9 37.9 324.4 38.0 325.9 38.1 327.4 38.2 328.9 38.3 330.4 38.4 331.9 38.6 333.4 38.7 334.9 38.8 336.4 38.9 337.9 39.1 339.4 39.2 340.9 39.3 342.3 39.5 343.8 39.6 345.3 39.8 346.8 39.9 348.3 40.1 349.8 40.2 351.3 40.4 352.8 40.5 354.3 40.7 355.8 40.9 357.3 41.1 358.7 41.2 360.2 41.4 361.7 41.6 363.2 41.8 364.7 42.0 366.2 42.2 367.7 42.4 369.1 42.6 370.6 42.8 372.1 43.0 373.6 43.2 375.0 43.4 376.5 43.6 378.0 43.9 379.5 44.1 380.9 44.3 382.4 44.5 383.8 44.6 385.2 44.4 386.5 44.2 388.0 44.2 389.4 44.2 391.0 44.4 392.5 44.7 394.0 45.0 395.4 45.4 396.9 45.8 398.3 46.2 399.7 46.6 401.1 47.1 402.5 47.5 403.9 48.0 405.4 48.4 406.8 48.8 408.2 49.2 409.7 49.6 411.2 50.0 412.6 50.4 414.1 50.8 415.6 51.1 417.0 51.5 418.5 51.9 420.0 52.4 421.4 52.8 422.8 53.3 424.3 53.7 425.7 54.3 427.1 54.8 428.5 55.4 429.8 56.0 431.2 56.6 432.5 57.2 433.8 57.9 435.2 58.6 436.5 59.3 437.8 60.0 439.0 60.8 440.3 61.5 441.6 62.3 442.9 63.1 444.1 63.9 445.4 64.7 446.7 65.5 447.9 66.3 449.2 67.1 450.4 67.9 451.7 68.8 452.9 69.6 454.2 70.4 455.4 71.2 456.7 72.1 457.9 72.9 459.2 73.8 460.4 74.6 461.7 75.5 462.9 76.4 464.1 77.2 465.3 78.1 466.5 79.0 467.7 79.9 468.9 80.9 470.1 81.8 471.2 82.7 472.4 83.7 473.5 84.7 474.6 85.7 475.7 86.7 476.8 87.7 477.9 88.7 478.9 89.8 479.9 90.8 481.0 91.9 482.0 93.0 482.9 94.1 483.9 95.3 484.9 96.4 485.8 97.6 486.7 98.7 487.6 99.9 488.5 101.1 489.4 102.3 490.3 103.5 491.1 104.8 492.0 106.0 492.8 107.2 493.6 108.5 494.4 109.8 495.2 111.0 496.0 112.3 496.8 113.6 497.6 114.9 498.3 116.2 499.1 117.5 499.8 118.8 500.6 120.1 501.3 121.5 502.0 122.8 502.7 124.1 503.4 125.5 504.1 126.8 504.8 128.2 505.4 129.5 506.1 130.8 506.8 132.2 507.4 133.5 508.1 134.9 508.7 136.3 509.4 137.6 510.0 139.0 510.6 140.3 511.2 141.7 511.8 143.1 512.5 144.4 513.1 145.8 513.6 147.2 514.2 148.6 514.8 149.9 515.4 151.3 516.0 152.7 516.5 154.1 517.1 155.5 517.6 156.9 518.2 158.3 518.7 159.7 519.3 161.1 519.8 162.5 520.3 163.8 520.8 165.2 521.4 166.7 521.9 168.1 522.4 169.5 522.9 170.9 523.4 172.3 523.9 173.7 524.3 175.1 524.8 176.5 525.3 177.9 525.8 179.4 526.2 180.8 526.7 182.2 527.2 183.6 527.6 185.0 528.1 186.5 528.5 187.9 528.9 189.3 529.4 190.7 529.8 192.2 530.2 193.6 530.6 195.0 531.1 196.5 531.5 197.9 531.9 199.4 532.3 200.8 532.7 202.2 533.1 203.7 533.5 205.1 533.8 206.6 534.2 208.0 534.6 209.5 535.0 210.9 535.4 212.4 535.7 213.8 536.1 215.3 536.5 216.7 536.8 218.2 537.2 219.6 537.5 221.1 537.9 222.5 538.2 224.0 538.5 225.5 538.9 226.9 539.2 228.4 539.6 229.8 539.9 231.3 540.2 232.8 540.5 234.2 540.9 235.7 541.2 237.2 541.5 238.6 541.8 240.1 542.1 241.6 542.4 243.0 542.7 244.5 543.0 246.0 543.3 247.4 543.6 248.9 543.9 250.4 544.2 251.8 544.5 253.3 544.8 254.8 545.1 256.3 545.3 257.7 545.6 259.2 545.9 260.7 546.2 262.2 546.5 263.6 546.7 265.1 547.0 266.6 547.3 268.1 547.5 269.6 547.8 271.0 548.1 272.5 548.3 274.0 548.6 275.5 548.8 276.9 549.1 278.4 549.4 279.9 549.6 281.4 549.9 282.9 550.1 284.3 550.4 285.8 550.6 287.3 550.9 288.8 551.1 290.3 551.4 291.7 551.6 293.2 551.9 294.7 552.1 296.2 552.4 297.6 552.6 299.1 552.9 300.6 553.1 302.1 553.3 303.6 553.6 305.0 553.8 306.5 554.1 308.0 554.3 309.5 554.6 311.0 554.8 312.4 555.1 313.9 555.3 315.4 555.6 316.9 555.8 318.4 556.1 319.8 556.3 321.3 556.5 322.8 556.8 324.3 557.0 325.7 557.3 327.2 557.5 328.7 557.8 330.2 558.1 331.6 558.3 333.1 558.6 334.6 558.8 336.1 559.1 337.5 559.3 339.0 559.6 340.5 559.9 342.0 560.1 343.4 560.4 344.9 560.7 346.4 560.9 347.9 561.2 349.3 561.5 350.8 561.8 352.3 562.0 353.7 562.3 355.2 562.6 356.7 562.9 358.1 563.2 359.6 563.5 361.1 563.8 362.5 564.1 364.0 564.4 365.5 564.7 366.9 565.0 368.4 565.3 369.9 565.6 371.3 565.9 372.8 566.2 374.3 566.5 375.7 566.8 377.2 567.2 378.6 567.5 380.1 567.8 381.5 568.2 383.0 568.5 384.5 568.8 385.9 569.2 387.4 569.5 388.8 569.9 390.3 570.2 391.7 570.6 393.2 571.0 394.6 571.3 396.1 571.7 397.5 572.1 399.0 572.5 400.4 572.9 401.9 573.3 403.3 573.6 404.8 574.0 406.2 574.5 407.6 574.9 409.1 575.3 410.5 575.7 412.0 576.1 413.4 576.6 414.8 577.0 416.3 577.4 417.7 577.9 419.1 578.3 420.6 578.8 422.0 579.2 423.4 579.7 424.8 580.2 426.3 580.7 427.7 581.1 429.1 581.6 430.6 582.1 432.0 582.6 433.4 583.1 434.8 583.6 436.2 584.2 437.6 584.7 439.1 585.2 440.5 585.8 441.9 586.3 443.3 586.9 444.7 587.4 446.1 588.0 447.5 588.6 448.9 589.1 450.3 589.7 451.7 590.3 453.0 590.9 454.4 591.6 455.8 592.2 457.2 592.8 458.5 593.5 459.9 594.2 461.2 594.8 462.6 595.5 463.9 596.2 465.2 597.0 466.5 597.7 467.8 598.5 469.1 599.2 470.3 600.0 471.6 600.8 472.8 601.7 474.1 602.5 475.3 603.4 476.5 604.3 477.6 605.2 478.8 606.1 480.0 607.1 481.1 608.0 482.2 609.0 483.3 610.1 484.3 611.1 485.4 612.2 486.4 613.3 487.4 614.4 488.4 615.6 489.4 616.7 490.3 617.9 491.2 619.1 492.1 620.4 493.0 621.6 493.9 622.9 494.7 624.2 495.5 625.5 496.3 626.8 497.1 628.1 497.8 629.4 498.5 630.8 499.2 632.1 499.9 633.5 500.6 634.8 501.2 636.2 501.9 637.6 502.5 639.0 503.0 640.4 503.6 641.8 504.1 643.2 504.7 644.6 505.2 646.0 505.7 647.4 506.1 648.8 506.6 650.2 507.0 651.7 507.4 653.1 507.8 654.5 508.2 656.0 508.6 657.4 509.0 658.9 509.3 660.3 509.6 661.8 510.0 663.2 510.3 664.7 510.6 666.1 510.9 667.6 511.1 669.1 511.4 670.5 511.6 672.0 511.9 673.5 512.1 675.0 512.3 676.4 512.5 677.9 512.8 679.4 512.9 680.9 513.1 682.4 513.3 683.9 513.5 685.4 513.7 686.8 513.8 688.3 514.0 689.8 514.1 691.3 514.3 692.8 514.4 694.3 514.5 695.8 514.7 697.3 514.8 698.8 514.9 700.3 515.1 701.8 515.2 703.3 515.3 704.8 515.4 706.3 515.5 707.8 515.7 709.3 515.8 710.8 515.9 712.3 516.0 713.8 516.1 715.3 516.2 716.8 516.3 718.3 516.5 719.8 516.6 721.3 516.7 722.8 516.8 724.3 516.9 725.7 517.0 727.2 517.1 728.7 517.2 730.2 517.3 731.7 517.4 733.2 517.5 734.7 517.6 736.2 517.7 737.7 517.8 739.2 517.9 740.7 518.0 742.2 518.1 743.7 518.2 745.2 518.3 746.7 518.4 748.2 518.5 749.7 518.6 751.2 518.7 752.7 518.8 754.2 518.9 755.7 519.0 757.2 519.1 758.6 519.2 760.1 519.3 761.6 519.4 763.1 519.5 764.6 519.6 766.1 519.6 767.6 519.7 769.1 519.8 770.6 519.9 772.1 520.0 773.6 520.1 775.1 520.1 776.6 520.2 778.1 520.3 779.6 520.4 781.1 520.5 782.6 520.6 784.1 520.6 785.6 520.7 787.1 520.8 788.5 520.9 790.0 520.9 791.5 521.0 793.0 521.1 794.5 521.1 796.0 521.2 797.5 521.3 799.0 521.4 800.5 521.4 802.0 521.5 803.5 521.6 805.0 521.6 806.5 521.7 808.0 521.8 809.5 521.8 811.0 521.9 812.5 522.0 814.0 522.0 815.5 522.1 817.0 522.1 818.5 522.2 820.0 522.2 821.4 522.3 822.9 522.4 824.4 522.4 825.9 522.5 827.4 522.5 828.9 522.6 830.4 522.6 831.9 522.7 833.4 522.7 834.9 522.8 836.4 522.8 837.9 522.9 839.4 522.9 840.9 523.0 842.4 523.0 843.9 523.1 845.4 523.1 846.9 523.2 848.4 523.2 849.9 523.2 851.4 523.3 852.9 523.3 854.4 523.4 855.9 523.4 857.4 523.4 858.9 523.5 860.4 523.5 861.9 523.6 863.4 523.6 864.9 523.7 866.4 523.7 867.9 523.7 869.4 523.8 870.9 523.8 872.4 523.9 873.9 523.9 875.4 523.9 876.9 524.0 878.4 524.0 879.9 524.1 881.4 524.1 882.9 524.2 884.4 524.2 885.8 524.3 887.3 524.3 888.8 524.3 890.3 524.4 891.8 524.4 893.3 524.5 894.8 524.5 896.3 524.6 897.8 524.6 899.3 524.7 900.8 524.7 902.3 524.8 903.8 524.8 905.3 524.9 906.8 524.9 908.3 525.0 909.8 525.1 911.3 525.1 912.8 525.2 914.3 525.2 915.8 525.3 917.3 525.4 918.8 525.4 920.3 525.5 921.8 525.6 923.3 525.6 924.8 525.7 926.3 525.8 927.8 525.9 929.3 525.9 930.8 526.0 932.3 526.1 933.8 526.2 935.3 526.3 936.7 526.3 938.2 526.4 939.7 526.5 941.2 526.6 942.7 526.7 944.2 526.8 945.7 526.9 947.2 527.0 948.7 527.1 950.2 527.2 951.7 527.3 953.2 527.4 954.7 527.5 956.2 527.6 957.7 527.7 959.2 527.9 960.6 528.0 962.1 528.1 963.6 528.2 965.1 528.4 966.6 528.5 968.1 528.6 969.6 528.7 971.1 528.9"/>
</defs>
<g filter="url(#b)" fill="none" stroke-linecap="round" stroke-linejoin="round">
<use href="#ax" stroke-width="4.0"/><use href="#tk" stroke-width="4.0"/>
<use href="#cK" stroke-width="2.8"/><use href="#cR" stroke-width="2.8"/><use href="#cG" stroke-width="2.8"/><use href="#cB" stroke-width="2.8"/>
</g>
<g fill="none" stroke-linecap="round" stroke-linejoin="round">
<use href="#ax" stroke-width="3.3"/><use href="#tk" stroke-width="3.3"/>
<use href="#cK" stroke-width="2.5"/><use href="#cR" stroke-width="2.5"/><use href="#cG" stroke-width="2.5"/><use href="#cB" stroke-width="2.5"/>
</g>
<g class="t"><text transform="translate(114.06 643.40) scale(0.930 1)" text-anchor="middle" style="font-size:29.3px">0</text><path transform="translate(88.90 582.31) scale(0.02970 -0.02800)" d="M279 0 L404 0 L404 716 L312 716 C285 650 200 585 88 535 L112 452 C180 478 240 515 279 566 Z"/><text transform="translate(114.06 582.31) scale(0.930 1)" text-anchor="middle" style="font-size:29.3px">0</text><text transform="translate(97.16 521.22) scale(0.930 1)" text-anchor="middle" style="font-size:29.3px">2</text><text transform="translate(114.06 521.22) scale(0.930 1)" text-anchor="middle" style="font-size:29.3px">0</text><text transform="translate(97.16 460.13) scale(0.930 1)" text-anchor="middle" style="font-size:29.3px">3</text><text transform="translate(114.06 460.13) scale(0.930 1)" text-anchor="middle" style="font-size:29.3px">0</text><text transform="translate(97.16 399.04) scale(0.930 1)" text-anchor="middle" style="font-size:29.3px">4</text><text transform="translate(114.06 399.04) scale(0.930 1)" text-anchor="middle" style="font-size:29.3px">0</text><text transform="translate(97.16 337.95) scale(0.930 1)" text-anchor="middle" style="font-size:29.3px">5</text><text transform="translate(114.06 337.95) scale(0.930 1)" text-anchor="middle" style="font-size:29.3px">0</text><text transform="translate(97.16 276.86) scale(0.930 1)" text-anchor="middle" style="font-size:29.3px">6</text><text transform="translate(114.06 276.86) scale(0.930 1)" text-anchor="middle" style="font-size:29.3px">0</text><text transform="translate(97.16 215.77) scale(0.930 1)" text-anchor="middle" style="font-size:29.3px">7</text><text transform="translate(114.06 215.77) scale(0.930 1)" text-anchor="middle" style="font-size:29.3px">0</text><text transform="translate(97.16 154.68) scale(0.930 1)" text-anchor="middle" style="font-size:29.3px">8</text><text transform="translate(114.06 154.68) scale(0.930 1)" text-anchor="middle" style="font-size:29.3px">0</text><text transform="translate(97.16 93.59) scale(0.930 1)" text-anchor="middle" style="font-size:29.3px">9</text><text transform="translate(114.06 93.59) scale(0.930 1)" text-anchor="middle" style="font-size:29.3px">0</text><path transform="translate(72.00 32.50) scale(0.02970 -0.02800)" d="M279 0 L404 0 L404 716 L312 716 C285 650 200 585 88 535 L112 452 C180 478 240 515 279 566 Z"/><text transform="translate(97.16 32.50) scale(0.930 1)" text-anchor="middle" style="font-size:29.3px">0</text><text transform="translate(114.06 32.50) scale(0.930 1)" text-anchor="middle" style="font-size:29.3px">0</text><text transform="translate(142.61 679.50) scale(0.930 1)" text-anchor="middle" style="font-size:29.3px">0</text><path transform="translate(235.91 679.50) scale(0.02970 -0.02800)" d="M279 0 L404 0 L404 716 L312 716 C285 650 200 585 88 535 L112 452 C180 478 240 515 279 566 Z"/><text transform="translate(261.07 679.50) scale(0.930 1)" text-anchor="middle" style="font-size:29.3px">0</text><text transform="translate(277.97 679.50) scale(0.930 1)" text-anchor="middle" style="font-size:29.3px">0</text><text transform="translate(362.62 679.50) scale(0.930 1)" text-anchor="middle" style="font-size:29.3px">2</text><text transform="translate(379.52 679.50) scale(0.930 1)" text-anchor="middle" style="font-size:29.3px">0</text><text transform="translate(396.42 679.50) scale(0.930 1)" text-anchor="middle" style="font-size:29.3px">0</text><text transform="translate(481.08 679.50) scale(0.930 1)" text-anchor="middle" style="font-size:29.3px">3</text><text transform="translate(497.98 679.50) scale(0.930 1)" text-anchor="middle" style="font-size:29.3px">0</text><text transform="translate(514.88 679.50) scale(0.930 1)" text-anchor="middle" style="font-size:29.3px">0</text><text transform="translate(599.54 679.50) scale(0.930 1)" text-anchor="middle" style="font-size:29.3px">4</text><text transform="translate(616.44 679.50) scale(0.930 1)" text-anchor="middle" style="font-size:29.3px">0</text><text transform="translate(633.34 679.50) scale(0.930 1)" text-anchor="middle" style="font-size:29.3px">0</text><text transform="translate(718.00 679.50) scale(0.930 1)" text-anchor="middle" style="font-size:29.3px">5</text><text transform="translate(734.90 679.50) scale(0.930 1)" text-anchor="middle" style="font-size:29.3px">0</text><text transform="translate(751.80 679.50) scale(0.930 1)" text-anchor="middle" style="font-size:29.3px">0</text><text transform="translate(836.45 679.50) scale(0.930 1)" text-anchor="middle" style="font-size:29.3px">6</text><text transform="translate(853.35 679.50) scale(0.930 1)" text-anchor="middle" style="font-size:29.3px">0</text><text transform="translate(870.25 679.50) scale(0.930 1)" text-anchor="middle" style="font-size:29.3px">0</text><text transform="translate(954.91 679.50) scale(0.930 1)" text-anchor="middle" style="font-size:29.3px">7</text><text transform="translate(971.81 679.50) scale(0.930 1)" text-anchor="middle" style="font-size:29.3px">0</text><text transform="translate(988.71 679.50) scale(0.930 1)" text-anchor="middle" style="font-size:29.3px">0</text></g>
<g class="t" style="font-size:28.9px" text-anchor="middle">
<text transform="translate(526.9 736.6) scale(0.95 1)">T</text>
<text transform="translate(549.6 736.9) scale(0.98 1)" style="font-size:27px">(</text>
<text transform="translate(559.65 720) scale(1 1)" style="font-size:17.4px;font-weight:normal;stroke:#000;stroke-width:0.6px">o</text>
<text transform="translate(575.9 736.6) scale(0.95 1)">C</text>
<text transform="translate(592 736.9) scale(0.98 1)" style="font-size:27px">)</text>
</g>
<text class="yt" transform="translate(29.5 398.2) rotate(-90) scale(1 1.06)">Weight (%)</text>
<g class="l">
<text transform="translate(907.5 267.6) scale(1.09 1)">polyLeu</text>
<text transform="translate(907.5 424.4) scale(1.09 1)">polyTyr</text>
<text transform="translate(906.7 491.5) scale(1.09 1)">polyTrp</text>
<text transform="translate(906.7 563.2) scale(1.068 1)">polyPhe</text>
</g>
</svg>
</body></html>
